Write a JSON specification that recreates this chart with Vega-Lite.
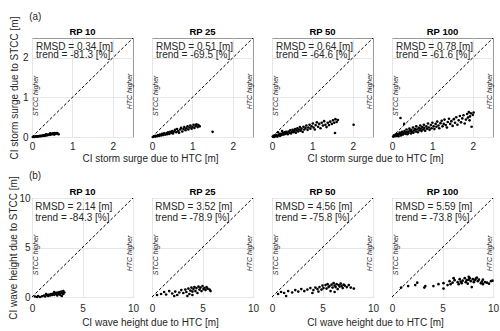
{
"$schema":"https://vega.github.io/schema/vega-lite/v6.json",
"padding":{"left":8,"top":11,"right":0,"bottom":0},
"columns":4,
"bounds":"flush",
"spacing":{"row":61,"column":19},
"config":{
 "font":"Liberation Sans",
 "view":{"stroke":"#9a9a9a","strokeWidth":1},
 "axis":{"domain":false,"ticks":false,"grid":true,"gridColor":"#e6e6e6","labelFontSize":10,"labelColor":"#262626","labelPadding":4,"titleFontSize":10,"titleFontWeight":"normal","titleColor":"#262626","titlePadding":2,"labelFlush":false},
 "text":{"color":"#262626"}
},
"datasets":{
"ann":[
{"p":"a10","rp":"RP 10","g":"(a)","t":"RMSD =  0.34 [m]\ntrend = -81.3 [%]"},
{"p":"a25","rp":"RP 25","g":"","t":"RMSD =  0.51 [m]\ntrend = -69.5 [%]"},
{"p":"a50","rp":"RP 50","g":"","t":"RMSD =  0.64 [m]\ntrend = -64.6 [%]"},
{"p":"a100","rp":"RP 100","g":"","t":"RMSD =  0.78 [m]\ntrend = -61.6 [%]"},
{"p":"b10","rp":"RP 10","g":"(b)","t":"RMSD =  2.14 [m]\ntrend = -84.3 [%]"},
{"p":"b25","rp":"RP 25","g":"","t":"RMSD =  3.52 [m]\ntrend = -78.9 [%]"},
{"p":"b50","rp":"RP 50","g":"","t":"RMSD =  4.56 [m]\ntrend = -75.8 [%]"},
{"p":"b100","rp":"RP 100","g":"","t":"RMSD =  5.59 [m]\ntrend = -73.8 [%]"}
],
"pts":[
{"p":"a10","x":0.02,"y":0.0},{"p":"a10","x":0.04,"y":0.01},{"p":"a10","x":0.06,"y":0.0},{"p":"a10","x":0.08,"y":0.01},{"p":"a10","x":0.1,"y":0.01},{"p":"a10","x":0.12,"y":0.02},{"p":"a10","x":0.14,"y":0.01},{"p":"a10","x":0.16,"y":0.02},{"p":"a10","x":0.18,"y":0.02},{"p":"a10","x":0.2,"y":0.03},{"p":"a10","x":0.22,"y":0.02},{"p":"a10","x":0.24,"y":0.03},{"p":"a10","x":0.26,"y":0.03},{"p":"a10","x":0.28,"y":0.04},{"p":"a10","x":0.3,"y":0.03},{"p":"a10","x":0.32,"y":0.04},{"p":"a10","x":0.34,"y":0.05},{"p":"a10","x":0.36,"y":0.04},{"p":"a10","x":0.38,"y":0.05},{"p":"a10","x":0.4,"y":0.06},{"p":"a10","x":0.42,"y":0.05},{"p":"a10","x":0.44,"y":0.07},{"p":"a10","x":0.46,"y":0.06},{"p":"a10","x":0.48,"y":0.08},{"p":"a10","x":0.5,"y":0.07},{"p":"a10","x":0.52,"y":0.09},{"p":"a10","x":0.54,"y":0.08},{"p":"a10","x":0.56,"y":0.1},{"p":"a10","x":0.58,"y":0.08},{"p":"a10","x":0.6,"y":0.09},{"p":"a10","x":0.62,"y":0.1},{"p":"a10","x":0.64,"y":0.08},{"p":"a10","x":0.45,"y":0.09},{"p":"a10","x":0.35,"y":0.07},{"p":"a10","x":0.55,"y":0.06},{"p":"a10","x":0.66,"y":0.07},
{"p":"a25","x":0.02,"y":0.0},{"p":"a25","x":0.05,"y":0.02},{"p":"a25","x":0.08,"y":0.01},{"p":"a25","x":0.1,"y":0.03},{"p":"a25","x":0.13,"y":0.02},{"p":"a25","x":0.15,"y":0.05},{"p":"a25","x":0.18,"y":0.03},{"p":"a25","x":0.2,"y":0.06},{"p":"a25","x":0.23,"y":0.04},{"p":"a25","x":0.25,"y":0.08},{"p":"a25","x":0.28,"y":0.05},{"p":"a25","x":0.3,"y":0.09},{"p":"a25","x":0.33,"y":0.06},{"p":"a25","x":0.36,"y":0.1},{"p":"a25","x":0.38,"y":0.07},{"p":"a25","x":0.4,"y":0.12},{"p":"a25","x":0.43,"y":0.08},{"p":"a25","x":0.45,"y":0.13},{"p":"a25","x":0.48,"y":0.1},{"p":"a25","x":0.5,"y":0.15},{"p":"a25","x":0.52,"y":0.09},{"p":"a25","x":0.55,"y":0.14},{"p":"a25","x":0.57,"y":0.18},{"p":"a25","x":0.6,"y":0.12},{"p":"a25","x":0.62,"y":0.2},{"p":"a25","x":0.65,"y":0.15},{"p":"a25","x":0.67,"y":0.11},{"p":"a25","x":0.7,"y":0.19},{"p":"a25","x":0.72,"y":0.23},{"p":"a25","x":0.75,"y":0.14},{"p":"a25","x":0.78,"y":0.2},{"p":"a25","x":0.8,"y":0.25},{"p":"a25","x":0.83,"y":0.17},{"p":"a25","x":0.85,"y":0.22},{"p":"a25","x":0.88,"y":0.27},{"p":"a25","x":0.9,"y":0.19},{"p":"a25","x":0.93,"y":0.24},{"p":"a25","x":0.95,"y":0.29},{"p":"a25","x":0.98,"y":0.21},{"p":"a25","x":1.0,"y":0.26},{"p":"a25","x":1.03,"y":0.31},{"p":"a25","x":1.05,"y":0.23},{"p":"a25","x":1.08,"y":0.28},{"p":"a25","x":1.1,"y":0.32},{"p":"a25","x":1.13,"y":0.25},{"p":"a25","x":1.15,"y":0.3},{"p":"a25","x":1.18,"y":0.27},{"p":"a25","x":1.5,"y":0.13},
{"p":"a50","x":0.02,"y":0.01},{"p":"a50","x":0.04,"y":0.03},{"p":"a50","x":0.05,"y":0.0},{"p":"a50","x":0.07,"y":0.04},{"p":"a50","x":0.09,"y":0.02},{"p":"a50","x":0.11,"y":0.05},{"p":"a50","x":0.13,"y":0.01},{"p":"a50","x":0.15,"y":0.12},{"p":"a50","x":0.16,"y":0.04},{"p":"a50","x":0.18,"y":0.07},{"p":"a50","x":0.2,"y":0.03},{"p":"a50","x":0.22,"y":0.08},{"p":"a50","x":0.24,"y":0.05},{"p":"a50","x":0.25,"y":0.15},{"p":"a50","x":0.27,"y":0.1},{"p":"a50","x":0.29,"y":0.06},{"p":"a50","x":0.31,"y":0.12},{"p":"a50","x":0.33,"y":0.08},{"p":"a50","x":0.35,"y":0.13},{"p":"a50","x":0.37,"y":0.1},{"p":"a50","x":0.39,"y":0.07},{"p":"a50","x":0.41,"y":0.14},{"p":"a50","x":0.43,"y":0.11},{"p":"a50","x":0.45,"y":0.17},{"p":"a50","x":0.47,"y":0.09},{"p":"a50","x":0.49,"y":0.13},{"p":"a50","x":0.51,"y":0.18},{"p":"a50","x":0.53,"y":0.12},{"p":"a50","x":0.55,"y":0.15},{"p":"a50","x":0.57,"y":0.2},{"p":"a50","x":0.59,"y":0.11},{"p":"a50","x":0.61,"y":0.17},{"p":"a50","x":0.63,"y":0.22},{"p":"a50","x":0.65,"y":0.14},{"p":"a50","x":0.67,"y":0.19},{"p":"a50","x":0.69,"y":0.25},{"p":"a50","x":0.71,"y":0.16},{"p":"a50","x":0.73,"y":0.21},{"p":"a50","x":0.76,"y":0.13},{"p":"a50","x":0.78,"y":0.26},{"p":"a50","x":0.8,"y":0.19},{"p":"a50","x":0.83,"y":0.23},{"p":"a50","x":0.85,"y":0.29},{"p":"a50","x":0.88,"y":0.18},{"p":"a50","x":0.9,"y":0.24},{"p":"a50","x":0.93,"y":0.31},{"p":"a50","x":0.95,"y":0.21},{"p":"a50","x":0.98,"y":0.27},{"p":"a50","x":1.01,"y":0.34},{"p":"a50","x":1.03,"y":0.24},{"p":"a50","x":1.06,"y":0.19},{"p":"a50","x":1.08,"y":0.3},{"p":"a50","x":1.11,"y":0.37},{"p":"a50","x":1.14,"y":0.26},{"p":"a50","x":1.17,"y":0.33},{"p":"a50","x":1.2,"y":0.22},{"p":"a50","x":1.23,"y":0.36},{"p":"a50","x":1.26,"y":0.29},{"p":"a50","x":1.29,"y":0.4},{"p":"a50","x":1.32,"y":0.31},{"p":"a50","x":1.35,"y":0.25},{"p":"a50","x":1.38,"y":0.36},{"p":"a50","x":1.41,"y":0.3},{"p":"a50","x":1.44,"y":0.39},{"p":"a50","x":1.48,"y":0.33},{"p":"a50","x":1.51,"y":0.42},{"p":"a50","x":1.54,"y":0.36},{"p":"a50","x":1.57,"y":0.45},{"p":"a50","x":1.6,"y":0.38},{"p":"a50","x":1.63,"y":0.43},{"p":"a50","x":1.56,"y":0.1},{"p":"a50","x":2.02,"y":0.31},
{"p":"a100","x":0.03,"y":0.01},{"p":"a100","x":0.05,"y":0.04},{"p":"a100","x":0.07,"y":0.02},{"p":"a100","x":0.09,"y":0.06},{"p":"a100","x":0.11,"y":0.03},{"p":"a100","x":0.12,"y":0.08},{"p":"a100","x":0.14,"y":0.05},{"p":"a100","x":0.16,"y":0.02},{"p":"a100","x":0.17,"y":0.07},{"p":"a100","x":0.19,"y":0.11},{"p":"a100","x":0.21,"y":0.48},{"p":"a100","x":0.22,"y":0.04},{"p":"a100","x":0.23,"y":0.09},{"p":"a100","x":0.25,"y":0.13},{"p":"a100","x":0.27,"y":0.06},{"p":"a100","x":0.29,"y":0.1},{"p":"a100","x":0.3,"y":0.33},{"p":"a100","x":0.31,"y":0.15},{"p":"a100","x":0.33,"y":0.08},{"p":"a100","x":0.35,"y":0.12},{"p":"a100","x":0.36,"y":0.19},{"p":"a100","x":0.38,"y":0.07},{"p":"a100","x":0.4,"y":0.14},{"p":"a100","x":0.41,"y":0.1},{"p":"a100","x":0.43,"y":0.21},{"p":"a100","x":0.45,"y":0.16},{"p":"a100","x":0.47,"y":0.09},{"p":"a100","x":0.48,"y":0.18},{"p":"a100","x":0.5,"y":0.13},{"p":"a100","x":0.52,"y":0.24},{"p":"a100","x":0.53,"y":0.11},{"p":"a100","x":0.55,"y":0.17},{"p":"a100","x":0.57,"y":0.2},{"p":"a100","x":0.59,"y":0.14},{"p":"a100","x":0.6,"y":0.27},{"p":"a100","x":0.62,"y":0.19},{"p":"a100","x":0.64,"y":0.12},{"p":"a100","x":0.66,"y":0.23},{"p":"a100","x":0.68,"y":0.17},{"p":"a100","x":0.7,"y":0.29},{"p":"a100","x":0.71,"y":0.21},{"p":"a100","x":0.73,"y":0.15},{"p":"a100","x":0.75,"y":0.25},{"p":"a100","x":0.77,"y":0.19},{"p":"a100","x":0.79,"y":0.31},{"p":"a100","x":0.8,"y":0.23},{"p":"a100","x":0.82,"y":0.16},{"p":"a100","x":0.85,"y":0.27},{"p":"a100","x":0.87,"y":0.21},{"p":"a100","x":0.89,"y":0.34},{"p":"a100","x":0.91,"y":0.24},{"p":"a100","x":0.93,"y":0.18},{"p":"a100","x":0.96,"y":0.3},{"p":"a100","x":0.98,"y":0.22},{"p":"a100","x":1.0,"y":0.36},{"p":"a100","x":1.03,"y":0.27},{"p":"a100","x":1.05,"y":0.2},{"p":"a100","x":1.08,"y":0.33},{"p":"a100","x":1.1,"y":0.26},{"p":"a100","x":1.12,"y":0.39},{"p":"a100","x":1.15,"y":0.29},{"p":"a100","x":1.17,"y":0.22},{"p":"a100","x":1.2,"y":0.35},{"p":"a100","x":1.23,"y":0.41},{"p":"a100","x":1.25,"y":0.27},{"p":"a100","x":1.28,"y":0.33},{"p":"a100","x":1.3,"y":0.44},{"p":"a100","x":1.33,"y":0.3},{"p":"a100","x":1.36,"y":0.24},{"p":"a100","x":1.38,"y":0.38},{"p":"a100","x":1.41,"y":0.46},{"p":"a100","x":1.44,"y":0.33},{"p":"a100","x":1.47,"y":0.4},{"p":"a100","x":1.5,"y":0.28},{"p":"a100","x":1.53,"y":0.45},{"p":"a100","x":1.56,"y":0.36},{"p":"a100","x":1.59,"y":0.5},{"p":"a100","x":1.62,"y":0.31},{"p":"a100","x":1.65,"y":0.42},{"p":"a100","x":1.68,"y":0.53},{"p":"a100","x":1.71,"y":0.37},{"p":"a100","x":1.74,"y":0.47},{"p":"a100","x":1.77,"y":0.55},{"p":"a100","x":1.8,"y":0.34},{"p":"a100","x":1.83,"y":0.44},{"p":"a100","x":1.86,"y":0.58},{"p":"a100","x":1.88,"y":0.49},{"p":"a100","x":1.9,"y":0.63},{"p":"a100","x":1.93,"y":0.52},{"p":"a100","x":1.95,"y":0.6},{"p":"a100","x":1.97,"y":0.26},{"p":"a100","x":2.0,"y":0.56},{"p":"a100","x":2.02,"y":0.62},{"p":"a100","x":1.92,"y":0.42},
{"p":"b10","x":0.3,"y":0.05},{"p":"b10","x":0.6,"y":0.1},{"p":"b10","x":0.8,"y":0.0},{"p":"b10","x":1.0,"y":0.08},{"p":"b10","x":1.2,"y":0.15},{"p":"b10","x":1.3,"y":0.05},{"p":"b10","x":1.5,"y":0.2},{"p":"b10","x":1.6,"y":0.1},{"p":"b10","x":1.7,"y":0.25},{"p":"b10","x":1.8,"y":0.15},{"p":"b10","x":1.9,"y":0.3},{"p":"b10","x":2.0,"y":0.2},{"p":"b10","x":2.1,"y":0.35},{"p":"b10","x":2.2,"y":0.22},{"p":"b10","x":2.3,"y":0.4},{"p":"b10","x":2.4,"y":0.28},{"p":"b10","x":2.5,"y":0.45},{"p":"b10","x":2.6,"y":0.3},{"p":"b10","x":2.7,"y":0.5},{"p":"b10","x":2.8,"y":0.35},{"p":"b10","x":2.9,"y":0.55},{"p":"b10","x":3.0,"y":0.4},{"p":"b10","x":3.1,"y":0.6},{"p":"b10","x":3.2,"y":0.45},{"p":"b10","x":2.5,"y":0.15},{"p":"b10","x":2.8,"y":0.2},{"p":"b10","x":3.1,"y":0.3},{"p":"b10","x":2.2,"y":0.5},{"p":"b10","x":1.4,"y":0.3},{"p":"b10","x":0.5,"y":0.0},{"p":"b10","x":2.95,"y":0.1},
{"p":"b25","x":0.5,"y":0.2},{"p":"b25","x":0.9,"y":0.3},{"p":"b25","x":1.2,"y":0.5},{"p":"b25","x":1.4,"y":0.25},{"p":"b25","x":1.7,"y":0.6},{"p":"b25","x":2.0,"y":0.35},{"p":"b25","x":2.3,"y":0.55},{"p":"b25","x":2.5,"y":0.2},{"p":"b25","x":2.7,"y":0.45},{"p":"b25","x":2.9,"y":0.7},{"p":"b25","x":3.1,"y":0.4},{"p":"b25","x":3.3,"y":0.75},{"p":"b25","x":3.4,"y":0.5},{"p":"b25","x":3.6,"y":0.85},{"p":"b25","x":3.7,"y":0.3},{"p":"b25","x":3.8,"y":0.65},{"p":"b25","x":3.9,"y":0.95},{"p":"b25","x":4.0,"y":0.55},{"p":"b25","x":4.1,"y":0.8},{"p":"b25","x":4.2,"y":1.0},{"p":"b25","x":4.3,"y":0.6},{"p":"b25","x":4.4,"y":0.9},{"p":"b25","x":4.5,"y":0.4},{"p":"b25","x":4.6,"y":1.05},{"p":"b25","x":4.7,"y":0.75},{"p":"b25","x":4.8,"y":0.95},{"p":"b25","x":4.9,"y":0.6},{"p":"b25","x":5.0,"y":1.1},{"p":"b25","x":5.1,"y":0.8},{"p":"b25","x":5.2,"y":0.9},{"p":"b25","x":5.3,"y":0.7},{"p":"b25","x":5.4,"y":1.0},{"p":"b25","x":5.5,"y":0.85},{"p":"b25","x":5.7,"y":0.75},{"p":"b25","x":5.8,"y":0.6},{"p":"b25","x":3.5,"y":0.1},{"p":"b25","x":4.0,"y":0.2},{"p":"b25","x":2.2,"y":0.1},
{"p":"b50","x":0.6,"y":0.3},{"p":"b50","x":0.9,"y":0.5},{"p":"b50","x":1.2,"y":0.4},{"p":"b50","x":1.4,"y":0.1},{"p":"b50","x":1.6,"y":0.6},{"p":"b50","x":2.0,"y":0.45},{"p":"b50","x":2.3,"y":0.7},{"p":"b50","x":2.6,"y":0.55},{"p":"b50","x":2.9,"y":0.8},{"p":"b50","x":3.2,"y":0.6},{"p":"b50","x":3.5,"y":0.75},{"p":"b50","x":3.8,"y":0.9},{"p":"b50","x":4.0,"y":0.4},{"p":"b50","x":4.1,"y":0.7},{"p":"b50","x":4.3,"y":0.95},{"p":"b50","x":4.5,"y":0.8},{"p":"b50","x":4.7,"y":1.0},{"p":"b50","x":4.9,"y":0.75},{"p":"b50","x":5.0,"y":1.15},{"p":"b50","x":5.1,"y":0.9},{"p":"b50","x":5.3,"y":1.2},{"p":"b50","x":5.4,"y":0.85},{"p":"b50","x":5.5,"y":1.3},{"p":"b50","x":5.6,"y":1.0},{"p":"b50","x":5.7,"y":1.1},{"p":"b50","x":5.8,"y":0.6},{"p":"b50","x":5.9,"y":1.25},{"p":"b50","x":6.0,"y":0.95},{"p":"b50","x":6.1,"y":1.4},{"p":"b50","x":6.2,"y":1.15},{"p":"b50","x":6.3,"y":1.0},{"p":"b50","x":6.4,"y":1.3},{"p":"b50","x":6.5,"y":0.8},{"p":"b50","x":6.6,"y":1.2},{"p":"b50","x":6.7,"y":1.05},{"p":"b50","x":6.8,"y":1.35},{"p":"b50","x":6.9,"y":1.1},{"p":"b50","x":7.0,"y":0.9},{"p":"b50","x":7.1,"y":1.25},{"p":"b50","x":7.2,"y":1.15},{"p":"b50","x":7.4,"y":1.0},{"p":"b50","x":7.6,"y":1.2},{"p":"b50","x":7.8,"y":0.95},{"p":"b50","x":8.1,"y":0.85},{"p":"b50","x":6.2,"y":0.5},{"p":"b50","x":4.6,"y":0.55},
{"p":"b100","x":0.9,"y":0.95},{"p":"b100","x":1.6,"y":1.1},{"p":"b100","x":2.3,"y":1.2},{"p":"b100","x":2.5,"y":1.45},{"p":"b100","x":3.2,"y":0.95},{"p":"b100","x":3.3,"y":1.1},{"p":"b100","x":4.1,"y":1.1},{"p":"b100","x":4.6,"y":1.3},{"p":"b100","x":5.1,"y":1.4},{"p":"b100","x":5.1,"y":0.85},{"p":"b100","x":5.5,"y":1.2},{"p":"b100","x":5.7,"y":1.6},{"p":"b100","x":5.8,"y":1.3},{"p":"b100","x":6.0,"y":1.45},{"p":"b100","x":6.2,"y":1.7},{"p":"b100","x":6.5,"y":1.5},{"p":"b100","x":6.6,"y":1.3},{"p":"b100","x":6.7,"y":1.8},{"p":"b100","x":6.8,"y":1.55},{"p":"b100","x":6.9,"y":1.4},{"p":"b100","x":7.0,"y":1.65},{"p":"b100","x":7.2,"y":1.9},{"p":"b100","x":7.3,"y":1.5},{"p":"b100","x":7.4,"y":1.7},{"p":"b100","x":7.5,"y":1.35},{"p":"b100","x":7.6,"y":1.75},{"p":"b100","x":7.7,"y":1.9},{"p":"b100","x":7.8,"y":1.6},{"p":"b100","x":7.9,"y":1.0},{"p":"b100","x":8.0,"y":1.8},{"p":"b100","x":8.1,"y":1.5},{"p":"b100","x":8.2,"y":1.7},{"p":"b100","x":8.3,"y":1.85},{"p":"b100","x":8.5,"y":1.6},{"p":"b100","x":8.6,"y":1.75},{"p":"b100","x":8.8,"y":1.4},{"p":"b100","x":8.9,"y":1.55},{"p":"b100","x":9.0,"y":1.3},{"p":"b100","x":9.2,"y":1.5},{"p":"b100","x":9.4,"y":1.45},{"p":"b100","x":9.6,"y":1.35},{"p":"b100","x":9.8,"y":1.6},{"p":"b100","x":9.95,"y":1.65},{"p":"b100","x":6.1,"y":1.9},{"p":"b100","x":7.6,"y":2.05},{"p":"b100","x":8.4,"y":1.95},{"p":"b100","x":9.0,"y":1.75}
]
},
"concat":[
  {"width":101,"height":99,"layer":[
   {"data":{"name":"pts"},"transform":[{"filter":"datum.p==='a10'"}],"mark":{"type":"circle","size":7,"color":"black","opacity":1},
    "encoding":{"x":{"field":"x","type":"quantitative","scale":{"domain":[0,2.5],"nice":false,"zero":false},"axis":{"values":[0,1,2],"title":"CI storm surge due to HTC [m]","titleX":118}},
                "y":{"field":"y","type":"quantitative","scale":{"domain":[0,2.5],"nice":false,"zero":false},"axis":{"values":[0,1,2],"title":"CI storm surge due to STCC [m]","titlePadding":3.4}}}},
   {"data":{"name":"ann"},"transform":[{"filter":"datum.p==='a10'"}],"mark":{"type":"rule","strokeDash":[3,2],"color":"black","strokeWidth":1},"encoding":{"x":{"datum":0},"y":{"datum":0},"x2":{"datum":2.5},"y2":{"datum":2.5}}},
   {"data":{"name":"ann"},"transform":[{"filter":"datum.p==='a10'"}],"mark":{"type":"text","align":"left","baseline":"top","fontSize":10,"lineBreak":"\n","lineHeight":8},"encoding":{"x":{"datum":0.1},"y":{"datum":2.41},"text":{"field":"t"}}},
   {"data":{"name":"ann"},"transform":[{"filter":"datum.p==='a10'"}],"mark":{"type":"text","align":"center","baseline":"middle","fontSize":9.5,"fontWeight":"bold","color":"black"},"encoding":{"x":{"datum":1.25},"y":{"datum":2.66},"text":{"field":"rp"}}},
   {"data":{"name":"ann"},"transform":[{"filter":"datum.p==='a10'"}],"mark":{"type":"text","align":"left","baseline":"middle","fontSize":10},"encoding":{"x":{"datum":-0.07},"y":{"datum":3.04},"text":{"field":"g"}}},
   {"data":{"name":"ann"},"transform":[{"filter":"datum.p==='a10'"}],"mark":{"type":"text","angle":270,"align":"center","baseline":"middle","fontSize":7,"fontStyle":"italic"},"encoding":{"x":{"datum":0.1},"y":{"datum":1.04},"text":{"value":"STCC higher"}}},
   {"data":{"name":"ann"},"transform":[{"filter":"datum.p==='a10'"}],"mark":{"type":"text","angle":270,"align":"center","baseline":"middle","fontSize":7,"fontStyle":"italic"},"encoding":{"x":{"datum":2.43},"y":{"datum":1.15},"text":{"value":"HTC higher"}}}
  ]},
  {"width":101,"height":99,"layer":[
   {"data":{"name":"pts"},"transform":[{"filter":"datum.p==='a25'"}],"mark":{"type":"circle","size":7,"color":"black","opacity":1},
    "encoding":{"x":{"field":"x","type":"quantitative","scale":{"domain":[0,2.5],"nice":false,"zero":false},"axis":{"values":[0,1,2],"title":null}},
                "y":{"field":"y","type":"quantitative","scale":{"domain":[0,2.5],"nice":false,"zero":false},"axis":{"values":[0,1,2],"title":null,"labels":false}}}},
   {"data":{"name":"ann"},"transform":[{"filter":"datum.p==='a25'"}],"mark":{"type":"rule","strokeDash":[3,2],"color":"black","strokeWidth":1},"encoding":{"x":{"datum":0},"y":{"datum":0},"x2":{"datum":2.5},"y2":{"datum":2.5}}},
   {"data":{"name":"ann"},"transform":[{"filter":"datum.p==='a25'"}],"mark":{"type":"text","align":"left","baseline":"top","fontSize":10,"lineBreak":"\n","lineHeight":8},"encoding":{"x":{"datum":0.1},"y":{"datum":2.41},"text":{"field":"t"}}},
   {"data":{"name":"ann"},"transform":[{"filter":"datum.p==='a25'"}],"mark":{"type":"text","align":"center","baseline":"middle","fontSize":9.5,"fontWeight":"bold","color":"black"},"encoding":{"x":{"datum":1.25},"y":{"datum":2.66},"text":{"field":"rp"}}},
   {"data":{"name":"ann"},"transform":[{"filter":"datum.p==='a25'"}],"mark":{"type":"text","angle":270,"align":"center","baseline":"middle","fontSize":7,"fontStyle":"italic"},"encoding":{"x":{"datum":0.1},"y":{"datum":1.04},"text":{"value":"STCC higher"}}},
   {"data":{"name":"ann"},"transform":[{"filter":"datum.p==='a25'"}],"mark":{"type":"text","angle":270,"align":"center","baseline":"middle","fontSize":7,"fontStyle":"italic"},"encoding":{"x":{"datum":2.43},"y":{"datum":1.15},"text":{"value":"HTC higher"}}}
  ]},
  {"width":101,"height":99,"layer":[
   {"data":{"name":"pts"},"transform":[{"filter":"datum.p==='a50'"}],"mark":{"type":"circle","size":7,"color":"black","opacity":1},
    "encoding":{"x":{"field":"x","type":"quantitative","scale":{"domain":[0,2.5],"nice":false,"zero":false},"axis":{"values":[0,1,2],"title":"CI storm surge due to HTC [m]","titleX":103}},
                "y":{"field":"y","type":"quantitative","scale":{"domain":[0,2.5],"nice":false,"zero":false},"axis":{"values":[0,1,2],"title":null,"labels":false}}}},
   {"data":{"name":"ann"},"transform":[{"filter":"datum.p==='a50'"}],"mark":{"type":"rule","strokeDash":[3,2],"color":"black","strokeWidth":1},"encoding":{"x":{"datum":0},"y":{"datum":0},"x2":{"datum":2.5},"y2":{"datum":2.5}}},
   {"data":{"name":"ann"},"transform":[{"filter":"datum.p==='a50'"}],"mark":{"type":"text","align":"left","baseline":"top","fontSize":10,"lineBreak":"\n","lineHeight":8},"encoding":{"x":{"datum":0.1},"y":{"datum":2.41},"text":{"field":"t"}}},
   {"data":{"name":"ann"},"transform":[{"filter":"datum.p==='a50'"}],"mark":{"type":"text","align":"center","baseline":"middle","fontSize":9.5,"fontWeight":"bold","color":"black"},"encoding":{"x":{"datum":1.25},"y":{"datum":2.66},"text":{"field":"rp"}}},
   {"data":{"name":"ann"},"transform":[{"filter":"datum.p==='a50'"}],"mark":{"type":"text","angle":270,"align":"center","baseline":"middle","fontSize":7,"fontStyle":"italic"},"encoding":{"x":{"datum":0.1},"y":{"datum":1.04},"text":{"value":"STCC higher"}}},
   {"data":{"name":"ann"},"transform":[{"filter":"datum.p==='a50'"}],"mark":{"type":"text","angle":270,"align":"center","baseline":"middle","fontSize":7,"fontStyle":"italic"},"encoding":{"x":{"datum":2.43},"y":{"datum":1.15},"text":{"value":"HTC higher"}}}
  ]},
  {"width":101,"height":99,"layer":[
   {"data":{"name":"pts"},"transform":[{"filter":"datum.p==='a100'"}],"mark":{"type":"circle","size":7,"color":"black","opacity":1},
    "encoding":{"x":{"field":"x","type":"quantitative","scale":{"domain":[0,2.5],"nice":false,"zero":false},"axis":{"values":[0,1,2],"title":null}},
                "y":{"field":"y","type":"quantitative","scale":{"domain":[0,2.5],"nice":false,"zero":false},"axis":{"values":[0,1,2],"title":null,"labels":false}}}},
   {"data":{"name":"ann"},"transform":[{"filter":"datum.p==='a100'"}],"mark":{"type":"rule","strokeDash":[3,2],"color":"black","strokeWidth":1},"encoding":{"x":{"datum":0},"y":{"datum":0},"x2":{"datum":2.5},"y2":{"datum":2.5}}},
   {"data":{"name":"ann"},"transform":[{"filter":"datum.p==='a100'"}],"mark":{"type":"text","align":"left","baseline":"top","fontSize":10,"lineBreak":"\n","lineHeight":8},"encoding":{"x":{"datum":0.1},"y":{"datum":2.41},"text":{"field":"t"}}},
   {"data":{"name":"ann"},"transform":[{"filter":"datum.p==='a100'"}],"mark":{"type":"text","align":"center","baseline":"middle","fontSize":9.5,"fontWeight":"bold","color":"black"},"encoding":{"x":{"datum":1.25},"y":{"datum":2.66},"text":{"field":"rp"}}},
   {"data":{"name":"ann"},"transform":[{"filter":"datum.p==='a100'"}],"mark":{"type":"text","angle":270,"align":"center","baseline":"middle","fontSize":7,"fontStyle":"italic"},"encoding":{"x":{"datum":0.1},"y":{"datum":1.04},"text":{"value":"STCC higher"}}},
   {"data":{"name":"ann"},"transform":[{"filter":"datum.p==='a100'"}],"mark":{"type":"text","angle":270,"align":"center","baseline":"middle","fontSize":7,"fontStyle":"italic"},"encoding":{"x":{"datum":2.43},"y":{"datum":1.15},"text":{"value":"HTC higher"}}}
  ]},
  {"width":101,"height":99,"layer":[
   {"data":{"name":"pts"},"transform":[{"filter":"datum.p==='b10'"}],"mark":{"type":"circle","size":7,"color":"black","opacity":1},
    "encoding":{"x":{"field":"x","type":"quantitative","scale":{"domain":[0,10],"nice":false,"zero":false},"axis":{"values":[0,5,10],"title":"CI wave height due to HTC [m]","titleX":118,"labelPadding":6,"titlePadding":4}},
                "y":{"field":"y","type":"quantitative","scale":{"domain":[0,10],"nice":false,"zero":false},"axis":{"values":[0,5,10],"title":"CI wave height due to STCC [m]","labelPadding":2,"titlePadding":0}}}},
   {"data":{"name":"ann"},"transform":[{"filter":"datum.p==='b10'"}],"mark":{"type":"rule","strokeDash":[3,2],"color":"black","strokeWidth":1},"encoding":{"x":{"datum":0},"y":{"datum":0},"x2":{"datum":10},"y2":{"datum":10}}},
   {"data":{"name":"ann"},"transform":[{"filter":"datum.p==='b10'"}],"mark":{"type":"text","align":"left","baseline":"top","fontSize":10,"lineBreak":"\n","lineHeight":11.5},"encoding":{"x":{"datum":0.33},"y":{"datum":9.6},"text":{"field":"t"}}},
   {"data":{"name":"ann"},"transform":[{"filter":"datum.p==='b10'"}],"mark":{"type":"text","align":"center","baseline":"middle","fontSize":9.5,"fontWeight":"bold","color":"black"},"encoding":{"x":{"datum":5},"y":{"datum":10.6},"text":{"field":"rp"}}},
   {"data":{"name":"ann"},"transform":[{"filter":"datum.p==='b10'"}],"mark":{"type":"text","align":"left","baseline":"middle","fontSize":10},"encoding":{"x":{"datum":-0.3},"y":{"datum":12.2},"text":{"field":"g"}}},
   {"data":{"name":"ann"},"transform":[{"filter":"datum.p==='b10'"}],"mark":{"type":"text","angle":270,"align":"center","baseline":"middle","fontSize":7,"fontStyle":"italic"},"encoding":{"x":{"datum":0.4},"y":{"datum":4.25},"text":{"value":"STCC higher"}}},
   {"data":{"name":"ann"},"transform":[{"filter":"datum.p==='b10'"}],"mark":{"type":"text","angle":270,"align":"center","baseline":"middle","fontSize":7,"fontStyle":"italic"},"encoding":{"x":{"datum":9.7},"y":{"datum":4.4},"text":{"value":"HTC higher"}}}
  ]},
  {"width":101,"height":99,"layer":[
   {"data":{"name":"pts"},"transform":[{"filter":"datum.p==='b25'"}],"mark":{"type":"circle","size":7,"color":"black","opacity":1},
    "encoding":{"x":{"field":"x","type":"quantitative","scale":{"domain":[0,10],"nice":false,"zero":false},"axis":{"values":[0,5,10],"title":null,"labelPadding":6}},
                "y":{"field":"y","type":"quantitative","scale":{"domain":[0,10],"nice":false,"zero":false},"axis":{"values":[0,5,10],"title":null,"labels":false}}}},
   {"data":{"name":"ann"},"transform":[{"filter":"datum.p==='b25'"}],"mark":{"type":"rule","strokeDash":[3,2],"color":"black","strokeWidth":1},"encoding":{"x":{"datum":0},"y":{"datum":0},"x2":{"datum":10},"y2":{"datum":10}}},
   {"data":{"name":"ann"},"transform":[{"filter":"datum.p==='b25'"}],"mark":{"type":"text","align":"left","baseline":"top","fontSize":10,"lineBreak":"\n","lineHeight":11.5},"encoding":{"x":{"datum":0.33},"y":{"datum":9.6},"text":{"field":"t"}}},
   {"data":{"name":"ann"},"transform":[{"filter":"datum.p==='b25'"}],"mark":{"type":"text","align":"center","baseline":"middle","fontSize":9.5,"fontWeight":"bold","color":"black"},"encoding":{"x":{"datum":5},"y":{"datum":10.6},"text":{"field":"rp"}}},
   {"data":{"name":"ann"},"transform":[{"filter":"datum.p==='b25'"}],"mark":{"type":"text","angle":270,"align":"center","baseline":"middle","fontSize":7,"fontStyle":"italic"},"encoding":{"x":{"datum":0.4},"y":{"datum":4.25},"text":{"value":"STCC higher"}}},
   {"data":{"name":"ann"},"transform":[{"filter":"datum.p==='b25'"}],"mark":{"type":"text","angle":270,"align":"center","baseline":"middle","fontSize":7,"fontStyle":"italic"},"encoding":{"x":{"datum":9.7},"y":{"datum":4.4},"text":{"value":"HTC higher"}}}
  ]},
  {"width":101,"height":99,"layer":[
   {"data":{"name":"pts"},"transform":[{"filter":"datum.p==='b50'"}],"mark":{"type":"circle","size":7,"color":"black","opacity":1},
    "encoding":{"x":{"field":"x","type":"quantitative","scale":{"domain":[0,10],"nice":false,"zero":false},"axis":{"values":[0,5,10],"title":"CI wave height due to HTC [m]","titleX":103,"labelPadding":6,"titlePadding":4}},
                "y":{"field":"y","type":"quantitative","scale":{"domain":[0,10],"nice":false,"zero":false},"axis":{"values":[0,5,10],"title":null,"labels":false}}}},
   {"data":{"name":"ann"},"transform":[{"filter":"datum.p==='b50'"}],"mark":{"type":"rule","strokeDash":[3,2],"color":"black","strokeWidth":1},"encoding":{"x":{"datum":0},"y":{"datum":0},"x2":{"datum":10},"y2":{"datum":10}}},
   {"data":{"name":"ann"},"transform":[{"filter":"datum.p==='b50'"}],"mark":{"type":"text","align":"left","baseline":"top","fontSize":10,"lineBreak":"\n","lineHeight":11.5},"encoding":{"x":{"datum":0.33},"y":{"datum":9.6},"text":{"field":"t"}}},
   {"data":{"name":"ann"},"transform":[{"filter":"datum.p==='b50'"}],"mark":{"type":"text","align":"center","baseline":"middle","fontSize":9.5,"fontWeight":"bold","color":"black"},"encoding":{"x":{"datum":5},"y":{"datum":10.6},"text":{"field":"rp"}}},
   {"data":{"name":"ann"},"transform":[{"filter":"datum.p==='b50'"}],"mark":{"type":"text","angle":270,"align":"center","baseline":"middle","fontSize":7,"fontStyle":"italic"},"encoding":{"x":{"datum":0.4},"y":{"datum":4.25},"text":{"value":"STCC higher"}}},
   {"data":{"name":"ann"},"transform":[{"filter":"datum.p==='b50'"}],"mark":{"type":"text","angle":270,"align":"center","baseline":"middle","fontSize":7,"fontStyle":"italic"},"encoding":{"x":{"datum":9.7},"y":{"datum":4.4},"text":{"value":"HTC higher"}}}
  ]},
  {"width":101,"height":99,"layer":[
   {"data":{"name":"pts"},"transform":[{"filter":"datum.p==='b100'"}],"mark":{"type":"circle","size":7,"color":"black","opacity":1},
    "encoding":{"x":{"field":"x","type":"quantitative","scale":{"domain":[0,10],"nice":false,"zero":false},"axis":{"values":[0,5,10],"title":null,"labelPadding":6}},
                "y":{"field":"y","type":"quantitative","scale":{"domain":[0,10],"nice":false,"zero":false},"axis":{"values":[0,5,10],"title":null,"labels":false}}}},
   {"data":{"name":"ann"},"transform":[{"filter":"datum.p==='b100'"}],"mark":{"type":"rule","strokeDash":[3,2],"color":"black","strokeWidth":1},"encoding":{"x":{"datum":0},"y":{"datum":0},"x2":{"datum":10},"y2":{"datum":10}}},
   {"data":{"name":"ann"},"transform":[{"filter":"datum.p==='b100'"}],"mark":{"type":"text","align":"left","baseline":"top","fontSize":10,"lineBreak":"\n","lineHeight":11.5},"encoding":{"x":{"datum":0.33},"y":{"datum":9.6},"text":{"field":"t"}}},
   {"data":{"name":"ann"},"transform":[{"filter":"datum.p==='b100'"}],"mark":{"type":"text","align":"center","baseline":"middle","fontSize":9.5,"fontWeight":"bold","color":"black"},"encoding":{"x":{"datum":5},"y":{"datum":10.6},"text":{"field":"rp"}}},
   {"data":{"name":"ann"},"transform":[{"filter":"datum.p==='b100'"}],"mark":{"type":"text","angle":270,"align":"center","baseline":"middle","fontSize":7,"fontStyle":"italic"},"encoding":{"x":{"datum":0.4},"y":{"datum":4.25},"text":{"value":"STCC higher"}}},
   {"data":{"name":"ann"},"transform":[{"filter":"datum.p==='b100'"}],"mark":{"type":"text","angle":270,"align":"center","baseline":"middle","fontSize":7,"fontStyle":"italic"},"encoding":{"x":{"datum":9.7},"y":{"datum":4.4},"text":{"value":"HTC higher"}}}
  ]}
]
}
